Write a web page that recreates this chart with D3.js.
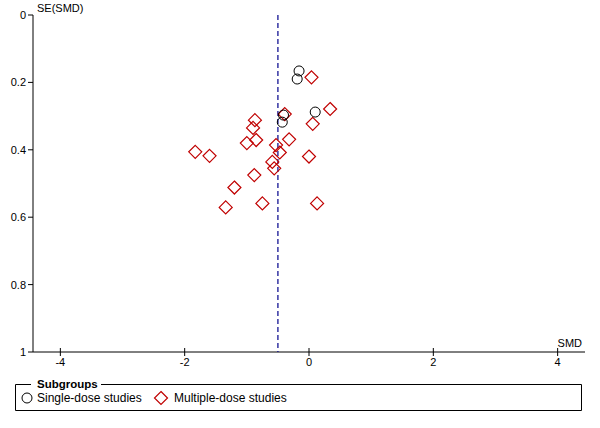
<!DOCTYPE html>
<html><head><meta charset="utf-8">
<script src="https://cdn.jsdelivr.net/npm/d3@7"></script>
<style>
body{margin:0;background:#fff;}
text{font-family:"Liberation Sans",Arial,sans-serif;font-size:11px;fill:#000;}
</style></head>
<body><svg id="c" width="600" height="428"></svg>
<script>
// Single-dose studies
const singleSMD = [-0.16, -0.19, 0.10, -0.41, -0.43];
const singleSE  = [0.166, 0.190, 0.288, 0.297, 0.318];
// Multiple-dose studies
const multiSMD = [0.04, 0.34, -0.39, 0.06, -0.87, -0.90, -1.00, -0.85, -0.32, -0.53, -0.47, 0.00, -0.59, -0.56, -1.83, -1.60, -1.20, -0.88, -0.75, -1.34, 0.13];
const multiSE  = [0.185, 0.279, 0.294, 0.323, 0.312, 0.335, 0.380, 0.371, 0.369, 0.386, 0.408, 0.420, 0.436, 0.455, 0.406, 0.418, 0.512, 0.475, 0.559, 0.571, 0.559];
const pooledSMD = -0.50;
const xTicks = [-4, -2, 0, 2, 4];
const yTicks = [0, 0.2, 0.4, 0.6, 0.8, 1];
const yTickLabels = ["0", "0.2", "0.4", "0.6", "0.8", "1"];
const legendLabels = ["Single-dose studies", "Multiple-dose studies"];

const svg = d3.select("#c");
const x = d3.scaleLinear().domain([-4.44, 4.44]).range([33, 585]);
const y = d3.scaleLinear().domain([0, 1]).range([15, 352]);

// y axis
svg.append("line").attr("x1",33).attr("x2",33).attr("y1",15).attr("y2",352).attr("stroke","#000");
yTicks.forEach((t,i)=>{
  svg.append("line").attr("x1",28).attr("x2",33).attr("y1",y(t)).attr("y2",y(t)).attr("stroke","#000");
  svg.append("text").attr("x",26).attr("y",y(t)+4).attr("text-anchor","end").text(yTickLabels[i]);
});
svg.append("text").attr("x",37).attr("y",12).text("SE(SMD)");

// x axis
svg.append("line").attr("x1",33).attr("x2",585).attr("y1",352).attr("y2",352).attr("stroke","#000");
xTicks.forEach(t=>{
  svg.append("line").attr("x1",x(t)).attr("x2",x(t)).attr("y1",348).attr("y2",356).attr("stroke","#000");
  svg.append("text").attr("x",x(t)).attr("y",366).attr("text-anchor","middle").text(t);
});
svg.append("text").attr("x",582).attr("y",347).attr("text-anchor","end").text("SMD");

// pooled dashed line
svg.append("line").attr("x1",x(pooledSMD)).attr("x2",x(pooledSMD)).attr("y1",y(0)).attr("y2",y(1))
  .attr("stroke","#00008b").attr("stroke-width",1.2).attr("stroke-dasharray","5,3");

function dpath(cx,cy,r){return `M${cx},${cy-r}L${cx+r},${cy}L${cx},${cy+r}L${cx-r},${cy}Z`;}

// multi-dose points
multiSMD.forEach((v,i)=>{
  svg.append("path").attr("d",dpath(x(v),y(multiSE[i]),6.5)).attr("fill","none").attr("stroke","#c00000").attr("stroke-width",1.2);
});
// single-dose points
singleSMD.forEach((v,i)=>{
  svg.append("circle").attr("cx",x(v)).attr("cy",y(singleSE[i])).attr("r",5).attr("fill","none").attr("stroke","#000").attr("stroke-width",1);
});

// legend
const lg = svg.append("g");
lg.append("path").attr("d","M31,384.5 L15.5,384.5 L15.5,410.5 L581.5,410.5 L581.5,384.5 L101,384.5").attr("fill","none").attr("stroke","#000");
lg.append("text").attr("x",37).attr("y",388).style("font-weight","bold").style("font-size","11.5px").text("Subgroups");
lg.append("circle").attr("cx",27).attr("cy",398).attr("r",5).attr("fill","none").attr("stroke","#000");
lg.append("text").attr("x",37).attr("y",402).style("font-size","12px").text(legendLabels[0]);
lg.append("path").attr("d",dpath(161,398,6.5)).attr("fill","none").attr("stroke","#c00000").attr("stroke-width",1.2);
lg.append("text").attr("x",174).attr("y",402).style("font-size","12px").text(legendLabels[1]);
</script></body></html>
